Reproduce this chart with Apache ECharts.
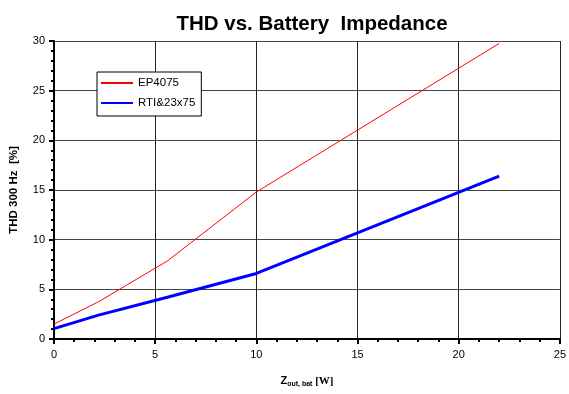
<!DOCTYPE html>
<html>
<head>
<meta charset="utf-8">
<script src="https://cdn.jsdelivr.net/npm/echarts@6/dist/echarts.min.js"></script>
<style>
  html, body { margin: 0; padding: 0; background: #fff; }
  #chart { width: 569px; height: 394px; }
</style>
</head>
<body>
<div id="chart"></div>
<script>
// Z_out,bat values (x) and THD at 300 Hz (y)
const zOut = [0, 2.2, 5.6, 10, 22];
const ep4075 = [1.5, 3.75, 7.85, 14.8, 29.75];
const rti23x75 = [1.05, 2.4, 4.2, 6.6, 16.4];

const toPairs = (xs, ys) => xs.map((x, i) => [x, ys[i]]);

const chart = echarts.init(document.getElementById("chart"));
const font = "Liberation Sans, Arial, sans-serif";

const option = {
  animation: false,
  title: {
    text: "THD vs. Battery  Impedance",
    left: 307,
    top: 9,
    textAlign: "center",
    textStyle: { fontFamily: font, fontSize: 20.5, fontWeight: "bold", color: "#000" },
  },
  legend: {
    left: 97,
    top: 72,
    orient: "vertical",
    itemGap: 8,
    itemWidth: 32,
    itemHeight: 14,
    padding: [5, 6, 7, 4],
    borderColor: "#000",
    borderWidth: 1,
    backgroundColor: "#fff",
    icon: "path://M0,0 L32,0 L32,2 L0,2 Z",
    textStyle: { fontFamily: font, fontSize: 11.5, color: "#000" },
    data: ["EP4075", "RTI&23x75"],
  },
  grid: { left: 54, right: 8, top: 41, bottom: 55 },
  xAxis: {
    type: "value",
    min: 0,
    max: 25,
    interval: 5,
    name: "{z|Z}{s|out, bat}{w| [W]}",
    nameLocation: "middle",
    nameGap: 36,
    nameTextStyle: {
      rich: {
        z: { fontFamily: font, fontSize: 11, fontWeight: "bold", color: "#000", verticalAlign: "top" },
        s: { fontFamily: font, fontSize: 7, fontWeight: "bold", color: "#000", padding: [6, 0, 0, 0] },
        w: { fontFamily: "Liberation Serif, serif", fontSize: 11, fontWeight: "bold", color: "#000" },
      },
    },
    axisLine: { lineStyle: { color: "#000", width: 2 } },
    axisTick: { show: true, length: 5, lineStyle: { color: "#000", width: 2 } },
    minorTick: { show: true, splitNumber: 5, length: 3, lineStyle: { color: "#000", width: 2 } },
    axisLabel: { fontFamily: font, fontSize: 11, color: "#000", margin: 10 },
    splitLine: { show: true, lineStyle: { color: "#222", width: 1 } },
  },
  yAxis: {
    type: "value",
    min: 0,
    max: 30,
    interval: 5,
    name: "THD 300 Hz  [%]",
    nameLocation: "middle",
    nameGap: 34,
    nameTextStyle: { fontFamily: font, fontSize: 11.5, fontWeight: "bold", color: "#000" },
    axisLine: { lineStyle: { color: "#000", width: 2 } },
    axisTick: { show: true, length: 5, lineStyle: { color: "#000", width: 2 } },
    minorTick: { show: true, splitNumber: 5, length: 3, lineStyle: { color: "#000", width: 2 } },
    axisLabel: { fontFamily: font, fontSize: 11, color: "#000", margin: 9 },
    splitLine: { show: true, lineStyle: { color: "#444", width: 1 } },
  },
  series: [
    {
      name: "EP4075",
      type: "line",
      data: toPairs(zOut, ep4075),
      showSymbol: false,
      symbol: "none",
      color: "#ff0000",
      lineStyle: { color: "#ff0000", width: 1 },
      z: 3,
    },
    {
      name: "RTI&23x75",
      type: "line",
      data: toPairs(zOut, rti23x75),
      showSymbol: false,
      symbol: "none",
      color: "#0000ff",
      lineStyle: { color: "#0000ff", width: 3 },
      z: 3,
    },
  ],
};

chart.setOption(option);
</script>
</body>
</html>
